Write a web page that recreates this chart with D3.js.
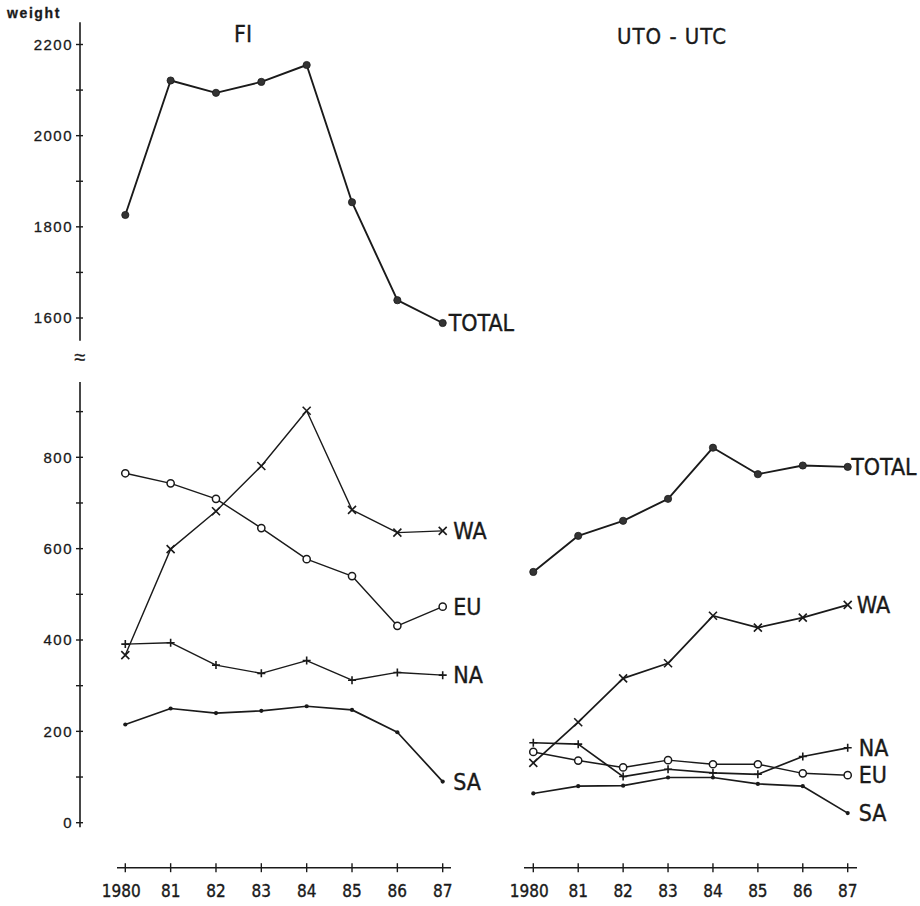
<!DOCTYPE html>
<html>
<head>
<meta charset="utf-8">
<script src="https://cdn.jsdelivr.net/npm/d3@7/dist/d3.min.js"></script>
<style>
  html, body { margin: 0; padding: 0; background: #ffffff; }
  svg { display: block; }
  .lbl { font-family: "Liberation Sans Narrow", "DejaVu Sans Condensed", "Liberation Sans", sans-serif; fill: #1a1a1a; stroke: #1a1a1a; stroke-width: 0.35; }
  .tick { font-family: "Liberation Sans", "DejaVu Sans", sans-serif; fill: #1a1a1a; stroke: #1a1a1a; stroke-width: 0.3; }
</style>
</head>
<body>
<script>
// Years on the horizontal axes
const years = [1980, 1981, 1982, 1983, 1984, 1985, 1986, 1987];
const yearLabels = ["1980", "81", "82", "83", "84", "85", "86", "87"];

// FI panel (weight)
const fiTotal = [1826, 2121, 2094, 2118, 2155, 1854, 1639, 1589];
const fiWA = [367, 599, 682, 781, 902, 685, 635, 639];
const fiEU = [765, 743, 709, 645, 577, 540, 431, 473];
const fiNA = [391, 394, 345, 327, 355, 312, 329, 323];
const fiSA = [215, 250, 240, 245, 255, 247, 198, 90];

// UTO-UTC panel (weight)
const utoTotal = [549, 628, 661, 709, 821, 763, 782, 779];
const utoWA = [131, 220, 316, 349, 453, 427, 449, 477];
const utoEU = [155, 136, 121, 137, 128, 128, 108, 104];
const utoNA = [175, 172, 101, 117, 109, 106, 145, 164];
const utoSA = [64, 80, 81, 99, 99, 85, 80, 21];

// Axis ticks
const upperTicks = [1600, 1700, 1800, 1900, 2000, 2100, 2200];
const upperLabels = [1600, 1800, 2000, 2200];
const lowerTicks = [0, 100, 200, 300, 400, 500, 600, 700, 800, 900];
const lowerLabels = [0, 200, 400, 600, 800];

const W = 920, H = 906;
const ink = "#1a1a1a";

const svg = d3.select("body").append("svg")
  .attr("width", W).attr("height", H)
  .attr("viewBox", `0 0 ${W} ${H}`);

svg.append("rect").attr("width", W).attr("height", H).attr("fill", "#ffffff");

// Vertical scales: broken axis, same units per pixel in both parts
const yUpper = d3.scaleLinear().domain([1600, 2200]).range([318, 44.5]);
const yLower = d3.scaleLinear().domain([0, 800]).range([822.7, 457.3]);

// Horizontal scales for the two panels
const xLeft = d3.scaleLinear().domain([1980, 1987]).range([125.3, 442.7]);
const xRight = d3.scaleLinear().domain([1980, 1987]).range([533.3, 847.7]);

const axisX = 80;

// ---- vertical axis (upper part) ----
const gUp = svg.append("g").attr("transform", `translate(${axisX},0)`);
gUp.append("line")
  .attr("x1", 0).attr("x2", 0)
  .attr("y1", yUpper(2249)).attr("y2", yUpper(1550))
  .attr("stroke", ink).attr("stroke-width", 1.6);
gUp.selectAll("line.t").data(upperTicks).enter().append("line")
  .attr("class", "t")
  .attr("x1", -4).attr("x2", 3)
  .attr("y1", d => yUpper(d)).attr("y2", d => yUpper(d))
  .attr("stroke", ink).attr("stroke-width", 1.4);
gUp.selectAll("text").data(upperLabels).enter().append("text")
  .attr("class", "tick")
  .attr("x", -7).attr("y", d => yUpper(d))
  .attr("dy", "0.36em")
  .attr("text-anchor", "end")
  .attr("font-size", 15)
  .attr("letter-spacing", 1.5)
  .text(d => d);

// break marker between the two parts of the axis
svg.append("text")
  .attr("class", "tick")
  .attr("x", axisX).attr("y", 357)
  .attr("dy", "0.35em")
  .attr("text-anchor", "middle")
  .attr("font-size", 20)
  .text("≈");

// ---- vertical axis (lower part) ----
const gLo = svg.append("g").attr("transform", `translate(${axisX},0)`);
gLo.append("line")
  .attr("x1", 0).attr("x2", 0)
  .attr("y1", yLower(965)).attr("y2", yLower(-10))
  .attr("stroke", ink).attr("stroke-width", 1.6);
gLo.selectAll("line.t").data(lowerTicks).enter().append("line")
  .attr("class", "t")
  .attr("x1", -4).attr("x2", 3)
  .attr("y1", d => yLower(d)).attr("y2", d => yLower(d))
  .attr("stroke", ink).attr("stroke-width", 1.4);
gLo.selectAll("text").data(lowerLabels).enter().append("text")
  .attr("class", "tick")
  .attr("x", -7).attr("y", d => yLower(d))
  .attr("dy", "0.36em")
  .attr("text-anchor", "end")
  .attr("font-size", 15)
  .attr("letter-spacing", 1.5)
  .text(d => d);

// axis caption
svg.append("text")
  .attr("class", "tick")
  .attr("x", 7).attr("y", 13)
  .attr("dy", "0.35em")
  .attr("font-size", 14)
  .attr("font-weight", "bold")
  .attr("letter-spacing", 1.6)
  .text("weight");

// ---- horizontal axes ----
function xAxis(x, yPos, x0, x1) {
  const g = svg.append("g");
  g.append("line")
    .attr("x1", x0).attr("x2", x1)
    .attr("y1", yPos).attr("y2", yPos)
    .attr("stroke", ink).attr("stroke-width", 1.6);
  g.selectAll("line.t").data(years).enter().append("line")
    .attr("class", "t")
    .attr("x1", d => x(d)).attr("x2", d => x(d))
    .attr("y1", yPos - 4.5).attr("y2", yPos + 4.5)
    .attr("stroke", ink).attr("stroke-width", 1.4);
  g.selectAll("text").data(years).enter().append("text")
    .attr("class", "lbl")
    .attr("x", (d, i) => x(d) - (i === 0 ? 4 : 0))
    .attr("y", yPos + 23)
    .attr("dy", "0.35em")
    .attr("text-anchor", "middle")
    .attr("font-size", 17)
    .attr("stroke-width", 0.6)
    .text((d, i) => yearLabels[i]);
}
xAxis(xLeft, 867.7, 117, 451);
xAxis(xRight, 867.7, 524, 857);

// ---- panel titles ----
svg.append("text").attr("class", "lbl")
  .attr("x", 243).attr("y", 34).attr("dy", "0.35em")
  .attr("text-anchor", "middle").attr("font-size", 23)
  .attr("stroke-width", 0.9)
  .text("FI");
svg.append("text").attr("class", "lbl")
  .attr("x", 672).attr("y", 36).attr("dy", "0.35em")
  .attr("text-anchor", "middle").attr("font-size", 22)
  .attr("stroke-width", 0.8)
  .attr("letter-spacing", 1)
  .text("UTO - UTC");

// ---- markers ----
function marker(g, kind, cx, cy) {
  if (kind === "dot") {
    g.append("circle").attr("cx", cx).attr("cy", cy).attr("r", 3.6)
      .attr("fill", "#333").attr("stroke", ink).attr("stroke-width", 0.8);
  } else if (kind === "small") {
    g.append("circle").attr("cx", cx).attr("cy", cy).attr("r", 2.1)
      .attr("fill", ink);
  } else if (kind === "ring") {
    g.append("circle").attr("cx", cx).attr("cy", cy).attr("r", 3.6)
      .attr("fill", "#fff").attr("stroke", ink).attr("stroke-width", 1.5);
  } else if (kind === "cross") {
    const s = 4;
    g.append("path")
      .attr("d", `M${cx - s},${cy - s}L${cx + s},${cy + s}M${cx - s},${cy + s}L${cx + s},${cy - s}`)
      .attr("stroke", ink).attr("stroke-width", 1.6).attr("fill", "none");
  } else if (kind === "plus") {
    const s = 4;
    g.append("path")
      .attr("d", `M${cx - s},${cy}L${cx + s},${cy}M${cx},${cy - s}L${cx},${cy + s}`)
      .attr("stroke", ink).attr("stroke-width", 1.6).attr("fill", "none");
  }
}

function series(x, y, values, kind, width, label, labelDx, fontSize) {
  const g = svg.append("g");
  const pts = values.map((v, i) => [x(years[i]), y(v)]);
  g.append("path")
    .attr("d", d3.line()(pts))
    .attr("fill", "none")
    .attr("stroke", ink)
    .attr("stroke-width", width)
    .attr("stroke-linejoin", "round");
  pts.forEach(p => marker(g, kind, p[0], p[1]));
  const last = pts[pts.length - 1];
  g.append("text")
    .attr("class", "lbl")
    .attr("x", last[0] + labelDx).attr("y", last[1])
    .attr("dy", "0.36em")
    .attr("font-size", fontSize)
    .text(label);
}

// FI panel
series(xLeft, yUpper, fiTotal, "dot", 1.9, "TOTAL", 6, 23);
series(xLeft, yLower, fiWA, "cross", 1.4, "WA", 10.5, 23);
series(xLeft, yLower, fiEU, "ring", 1.4, "EU", 10.5, 23);
series(xLeft, yLower, fiNA, "plus", 1.4, "NA", 10.5, 23);
series(xLeft, yLower, fiSA, "small", 1.7, "SA", 10.5, 23);

// UTO-UTC panel
series(xRight, yLower, utoTotal, "dot", 1.9, "TOTAL", 3.5, 23);
series(xRight, yLower, utoWA, "cross", 1.7, "WA", 9, 23);
series(xRight, yLower, utoEU, "ring", 1.5, "EU", 11, 23);
series(xRight, yLower, utoNA, "plus", 1.7, "NA", 11, 23);
series(xRight, yLower, utoSA, "small", 1.7, "SA", 11, 23);
</script>
</body>
</html>
